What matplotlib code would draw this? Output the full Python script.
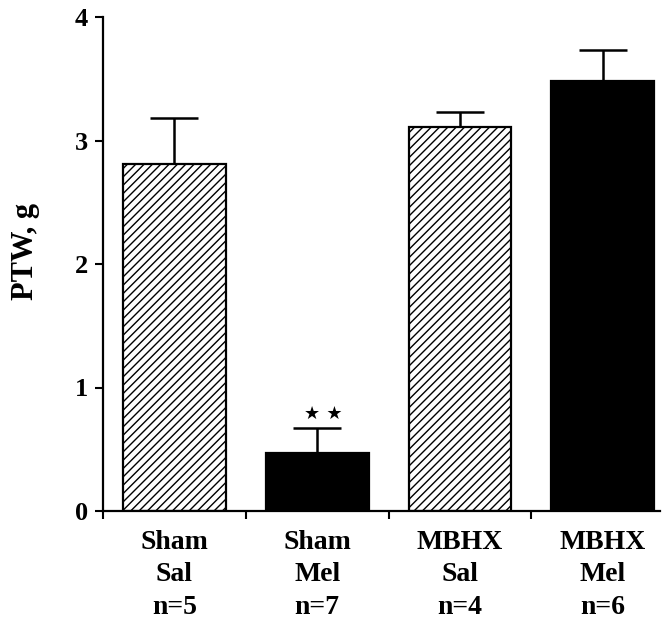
import matplotlib
matplotlib.use("Agg")
import matplotlib.pyplot as plt

groups = ["Sham\nSal\nn=5", "Sham\nMel\nn=7", "MBHX\nSal\nn=4", "MBHX\nMel\nn=6"]
values = [2.81, 0.47, 3.11, 3.48]
errors = [0.37, 0.20, 0.12, 0.25]
hatched = [True, False, True, False]
yticks = [0, 1, 2, 3, 4]

plt.rcParams['font.family'] = ['Liberation Serif', 'DejaVu Serif']
plt.rcParams['font.weight'] = 'bold'
plt.rcParams['hatch.linewidth'] = 1.0

fig = plt.figure(figsize=(6.71, 6.19), dpi=100)
ax = fig.add_axes([103/671, 1-511/619, (660-103)/671, (511-17)/619])

for i, (v, e, h) in enumerate(zip(values, errors, hatched)):
    if h:
        ax.bar(i, v, width=0.72, facecolor='white', edgecolor='black', hatch='////', linewidth=1.6, zorder=2)
    else:
        ax.bar(i, v, width=0.72, facecolor='black', edgecolor='black', linewidth=1.6, zorder=2)
    ax.errorbar(i, v, yerr=[[0], [e]], fmt='none', ecolor='black', elinewidth=1.8,
                capsize=17, capthick=1.8, zorder=1)

ax.text(1.04, values[1] + errors[1] + 0.115, "\u2605 \u2605", ha='center', va='center',
        fontsize=13, family=['DejaVu Sans'])

ax.set_xlim(-0.5, 3.4)
ax.set_ylim(0, 4)
ax.set_yticks(yticks)
ax.set_yticklabels([str(t) for t in yticks], fontsize=19, fontweight='bold')
ax.set_xticks([-0.5, 0.5, 1.5, 2.5])
ax.set_xticklabels([])
ax.tick_params(axis='both', direction='out', length=6, width=1.5)
ax.tick_params(axis='y', pad=5)
for s in ['top', 'right']:
    ax.spines[s].set_visible(False)
for s in ['left', 'bottom']:
    ax.spines[s].set_linewidth(1.6)

for i, g in enumerate(groups):
    ax.text(i, -0.038, g, transform=ax.get_xaxis_transform(), ha='center', va='top',
            fontsize=20, fontweight='bold', linespacing=1.4)

fig.text(25/671, 1-252/619, "PTW, g", rotation=90, ha='center', va='center',
         fontsize=22, fontweight='bold')

fig.savefig("out.png", dpi=100)
